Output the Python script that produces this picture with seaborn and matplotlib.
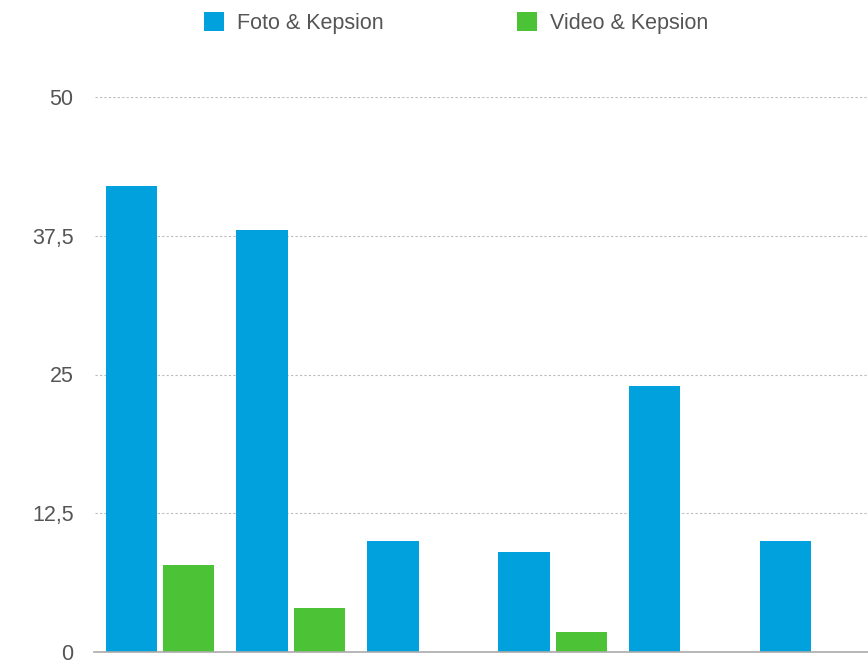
import matplotlib
matplotlib.use("Agg")
import matplotlib.pyplot as plt
from matplotlib.ticker import FuncFormatter, FixedLocator
import seaborn as sns
import pandas as pd

categories = ["K1", "K2", "K3", "K4", "K5", "K6"]
series_names = ["Foto & Kepsion", "Video & Kepsion"]
foto_values = [42, 38, 10, 9, 24, 10]
video_values = [7.8, 4, 0, 1.8, 0, 0]
y_ticks = [0, 12.5, 25, 37.5, 50]
colors = ["#00A1DC", "#4CC236"]

df = pd.DataFrame({
    "category": categories * 2,
    "series": [series_names[0]] * len(categories) + [series_names[1]] * len(categories),
    "value": foto_values + video_values,
})

sns.set_theme(style="white")
plt.rcParams["font.family"] = ["Liberation Sans", "DejaVu Sans"]

fig = plt.figure(figsize=(8.68, 6.6), dpi=100)
ax = fig.add_axes([94.5 / 868, 8 / 660, (880 - 94.5) / 868, (652 - 97) / 660])

sns.barplot(data=df, x="category", y="value", hue="series", order=categories,
            hue_order=series_names, palette=colors, width=0.88, gap=0.11,
            linewidth=0, saturation=1, ax=ax, legend=True)

ax.set_ylim(0, 50)
ax.set_xlim(-0.5, len(categories) - 0.5)
ax.yaxis.set_major_locator(FixedLocator(y_ticks))
ax.yaxis.set_major_formatter(FuncFormatter(lambda v, p: ("%g" % v).replace(".", ",")))
ax.tick_params(axis="y", length=0, pad=15, labelsize=15.5, labelcolor="#555555")
ax.tick_params(axis="x", length=0, labelbottom=False)
ax.set_xlabel("")
ax.set_ylabel("")
ax.grid(axis="y", linestyle=(0, (2, 2)), color="#bbbbbb", linewidth=0.8)
ax.set_axisbelow(True)
for s in ["top", "right", "left"]:
    ax.spines[s].set_visible(False)
ax.spines["bottom"].set_color("#aaaaaa")
ax.spines["bottom"].set_linewidth(1.2)

handles, labels = ax.get_legend_handles_labels()
ax.get_legend().remove()
fig.legend(handles, labels, loc="center", bbox_to_anchor=(456 / 868, 1 - 23 / 660),
           ncol=2, frameon=False, fontsize=15.5, handlelength=0.93, handleheight=0.93,
           handletextpad=0.6, columnspacing=6.2, labelcolor="#555555")

fig.savefig("out.png", dpi=100)
